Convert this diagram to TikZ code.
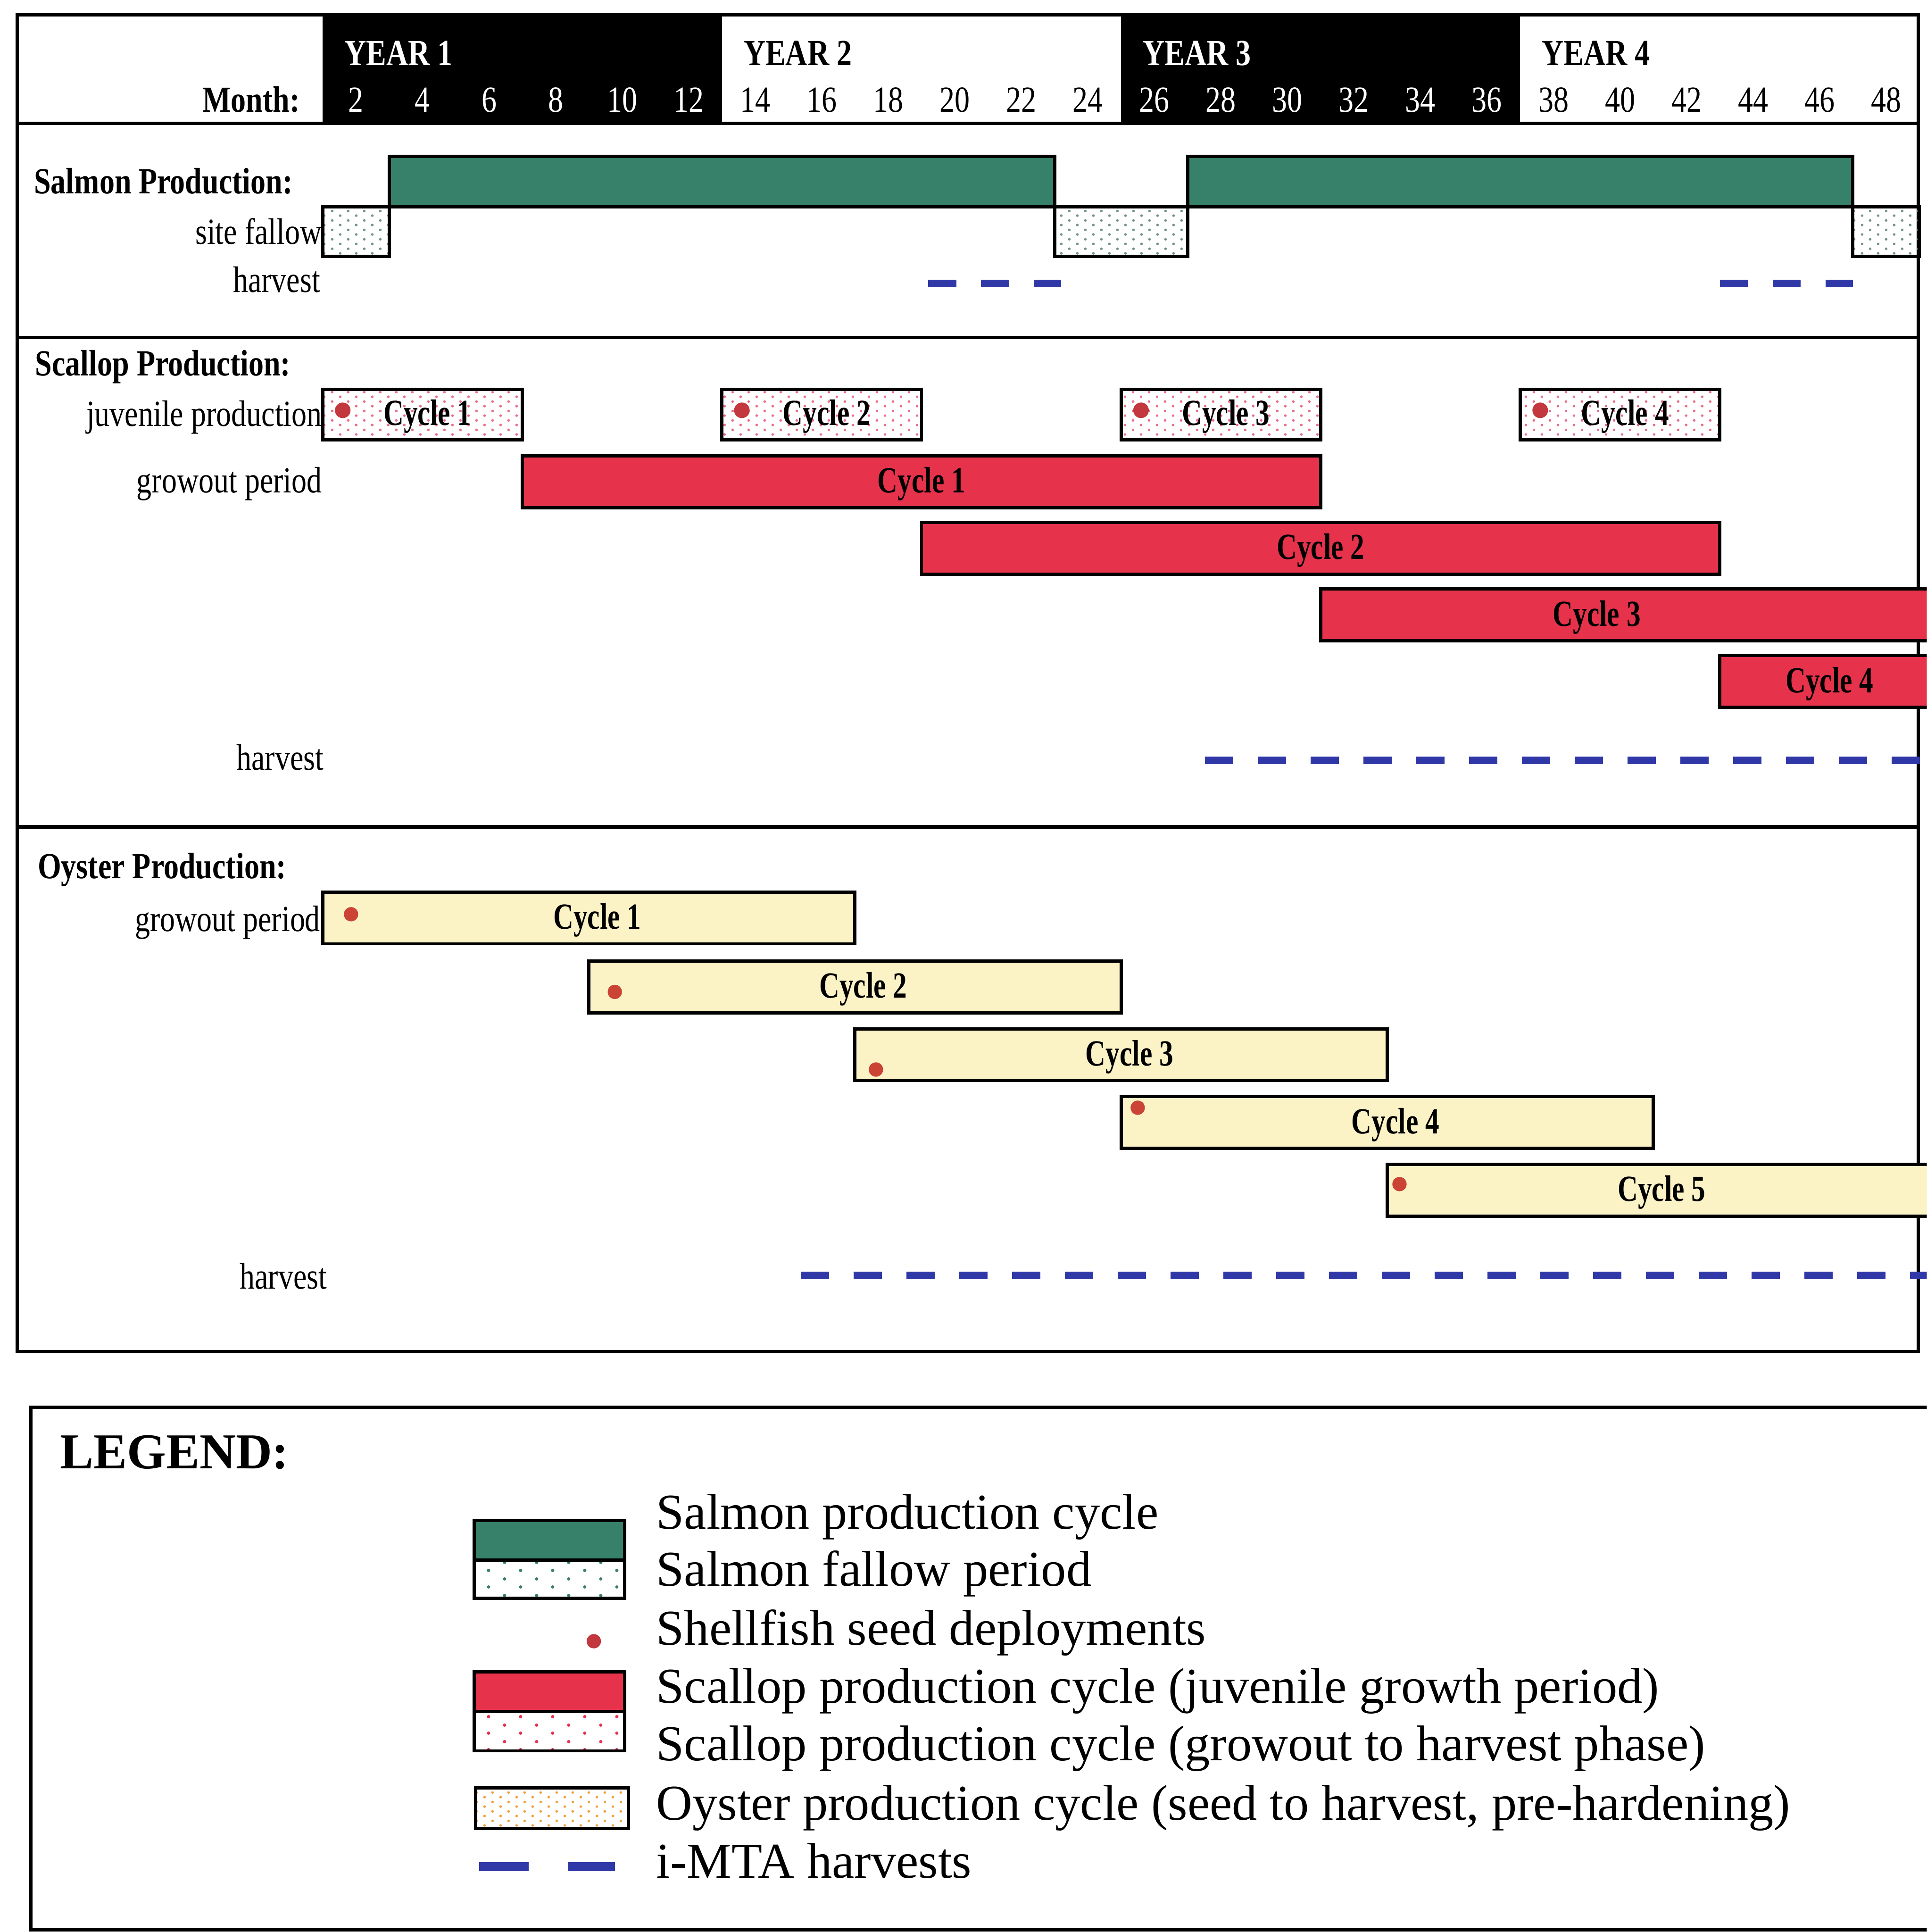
\documentclass[tikz,border=0pt]{standalone}
\usepackage{fontspec}
\setmainfont{Liberation Serif}
\newfontfamily\chartfont[FakeStretch=0.82]{Liberation Serif}
\newfontfamily\cyclefont[FakeStretch=0.76]{Liberation Serif}
\usetikzlibrary{patterns}
\usepackage{xcolor}
\definecolor{salmonGreen}{HTML}{37806A}
\definecolor{scallopRed}{HTML}{E6334B}
\definecolor{oysterFill}{HTML}{FBF2C6}
\definecolor{seedRed}{HTML}{C2383E}
\definecolor{harvestBlue}{HTML}{3038A8}
\definecolor{fallowDot}{HTML}{6F9488}
\definecolor{juvDot}{HTML}{EC6C88}
\definecolor{oysterDot}{HTML}{F0A040}

% staggered dot screens: a fine one for the chart, a coarse one for the legend
\pgfdeclarepatternformonly{finedots}{\pgfqpoint{0pt}{0pt}}{\pgfqpoint{3.7pt}{2.2pt}}{\pgfqpoint{3.7pt}{2.2pt}}{%
  \pgfpathcircle{\pgfqpoint{0.92pt}{0.55pt}}{0.3pt}%
  \pgfpathcircle{\pgfqpoint{2.77pt}{1.65pt}}{0.3pt}%
  \pgfusepath{fill}}
\pgfdeclarepatternformonly{widedots}{\pgfqpoint{0pt}{0pt}}{\pgfqpoint{7.4pt}{3.75pt}}{\pgfqpoint{7.4pt}{3.75pt}}{%
  \pgfpathcircle{\pgfqpoint{1.85pt}{0.94pt}}{0.38pt}%
  \pgfpathcircle{\pgfqpoint{5.55pt}{2.81pt}}{0.38pt}%
  \pgfusepath{fill}}

\begin{document}
\begin{tikzpicture}[x=0.1mm, y=-0.1mm,
  boxline/.style={line width=0.8pt},
  barbox/.style={draw=black, line width=0.75pt},
  salmonbar/.style={barbox, fill=salmonGreen},
  fallowbar/.style={barbox, pattern=finedots, pattern color=fallowDot},
  juvbar/.style={barbox, pattern=finedots, pattern color=juvDot},
  growbar/.style={barbox, fill=scallopRed},
  oysterbar/.style={barbox, fill=oysterFill},
  seeddot/.style={circle, fill=seedRed, inner sep=0pt, minimum size=3.6pt},
  harvestline/.style={harvestBlue, line width=1.7pt, dash pattern=on 6.5pt off 5.7pt},
  lbl/.style={font=\chartfont\fontsize{8.5}{10}\selectfont, inner sep=0pt, anchor=base east},
  ttl/.style={font=\chartfont\bfseries\fontsize{8.5}{10}\selectfont, inner sep=0pt, anchor=base west},
  mon/.style={font=\chartfont\fontsize{8.5}{10}\selectfont, inner sep=0pt, anchor=base},
  cyc/.style={font=\cyclefont\bfseries\fontsize{8.5}{10}\selectfont, inner sep=0pt, anchor=base},
  leg/.style={font=\fontsize{11.6}{14}\selectfont, inner sep=0pt, anchor=base west}]
\clip (0,0) rectangle (1564,1568);
\fill[white] (0,0) rectangle (1564,1568);

% ── outer frame and section rules ──
\draw[boxline] (14,12) rectangle (1557,1097);
\foreach \y in {100,274,671}{\draw[boxline] (14,\y) -- (1557,\y);}
\node[ttl, anchor=base east] (monthhd) at (244,91) {Month:};
\node[ttl] (salmonhd) at (27,157) {Salmon Production:};
\node[ttl] (scallophd) at (28,305) {Scallop Production:};
\node[ttl] (oysterhd) at (30,713) {Oyster Production:};

% time axis: one unit = one month, month 0 at the left of the bars
\begin{scope}[x=2.7mm, xshift=26.2mm]
% header
\fill (0,12) rectangle (12,100);
\fill (24,12) rectangle (36,100);
\foreach \k/\c in {1/white,2/black,3/white,4/black}
  {\node[ttl, text=\c] (year\k) at ({12*(\k-1)+0.63},53) {YEAR \k};}
\foreach \m in {2,4,...,12,26,28,...,36}{\node[mon, text=white] (m\m) at (\m-1,91) {\m};}
\foreach \m in {14,16,...,24,38,40,...,48}{\node[mon] (m\m) at (\m-1,91) {\m};}

% ── salmon ──
\draw[salmonbar] (2,127) rectangle (22,168);
\draw[salmonbar] (26,127) rectangle (46,168);
\foreach \a/\b in {0/2,22/26,46/48}{\draw[fallowbar] (\a,168) rectangle (\b,208);}
\draw[harvestline] (18.2,230) -- (22.2,230);
\draw[harvestline] (42,230) -- (46,230);
\node[lbl] (sfallow) at (0,198) {site fallow};
\node[lbl] (sharv) at (-0.05,237) {harvest};

% ── scallop ──
\foreach \s/\n in {0/1,12/2,24/3,36/4}{
  \draw[juvbar] (\s,316) rectangle ({\s+6},357);
  \node[seeddot] (jseed\n) at ({\s+0.6},333) {};
  \node[cyc] (juv\n) at ({\s+3.15},345) {Cycle \n};
}
\foreach \s/\n/\y/\lx in {6/1/370/18,18/2/424/30,30/3/478/38.3,42/4/532/45.3}{
  \draw[growbar] (\s,\y) rectangle ({min(\s+24,48.6)},{\y+42});
  \node[cyc] (grow\n) at (\lx,{\y+30}) {Cycle \n};
}
\draw[harvestline] (26.52,617) -- (48.6,617);
\node[lbl] (juvlbl) at (0,346) {juvenile production};
\node[lbl] (growlbl) at (0,400) {growout period};
\node[lbl] (charv) at (0.05,625) {harvest};

% ── oyster (last cycle runs on past month 48) ──
\foreach \s/\e/\n/\y/\dx/\dy in {0/16/1/724/0.85/742,8/24/2/780/0.78/805,16/32/3/835/0.63/868,24/40/4/890/0.5/899,32/48.6/5/945/0.37/961}{
  \draw[oysterbar] (\s,\y) rectangle (\e,{\y+42});
  \node[seeddot, fill=seedRed!85!orange, minimum size=3.3pt] (oseed\n) at ({\s+\dx},\dy) {};
  \node[cyc] (oys\n) at ({\s+8.25},{\y+30}) {Cycle \n};
}
\draw[harvestline] (14.37,1035) -- (48.6,1035);
\node[lbl] (ogrow) at (-0.05,756) {growout period};
\node[lbl] (oharv) at (0.15,1046) {harvest};
\end{scope}

% ── legend ──
\draw[boxline] (25,1142) rectangle (1600,1566);
\node[font=\bfseries\fontsize{11.6}{14}\selectfont, inner sep=0pt, anchor=base west] (legtitle) at (48,1192) {LEGEND:};
\fill[salmonGreen] (385,1234) rectangle (507,1266);
\fill[pattern=widedots, pattern color=salmonGreen] (385,1266) rectangle (507,1297);
\draw[barbox] (385,1234) rectangle (507,1297) (385,1266) -- (507,1266);
\node[seeddot, minimum size=3.3pt] (legseed) at (482,1332) {};
\fill[scallopRed] (385,1357) rectangle (507,1389);
\fill[pattern=widedots, pattern color=scallopRed] (385,1389) rectangle (507,1421);
\draw[barbox] (385,1357) rectangle (507,1421) (385,1389) -- (507,1389);
\draw[barbox, pattern=finedots, pattern color=oysterDot] (386,1451) rectangle (510,1484);
\draw[harvestBlue, line width=2pt] (389,1515) -- (429,1515) (461,1515) -- (499,1515);
\node[leg] (l1) at (532,1241) {Salmon production cycle};
\node[leg] (l2) at (532,1287) {Salmon fallow period};
\node[leg] (l3) at (532,1335) {Shellfish seed deployments};
\node[leg] (l4) at (532,1382) {Scallop production cycle (juvenile growth period)};
\node[leg] (l5) at (532,1429) {Scallop production cycle (growout to harvest phase)};
\node[leg] (l6) at (532,1477) {Oyster production cycle (seed to harvest, pre-hardening)};
\node[leg] (l7) at (532,1524) {i-MTA harvests};
\end{tikzpicture}
\end{document}
